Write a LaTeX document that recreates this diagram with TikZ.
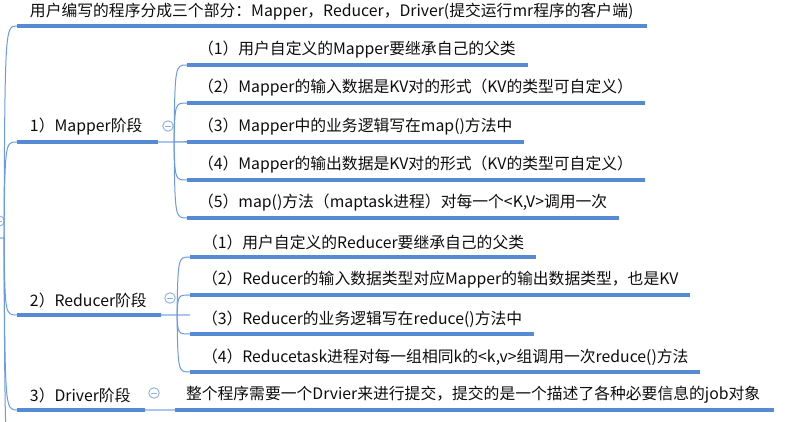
\documentclass[tikz,border=0pt]{standalone}
\usepackage{fontspec}
\setmainfont{Noto Sans CJK SC}
\definecolor{ulblue}{RGB}{86,139,212}
\definecolor{cblue}{RGB}{105,155,225}
\definecolor{sblue}{RGB}{170,198,238}
\definecolor{fblue}{RGB}{140,175,230}
\newcommand\mmfsz{\fontsize{15.8}{18}\selectfont}
\begin{document}
\begin{tikzpicture}[x=1pt,y=-1pt,
  every node/.style={inner sep=0pt, outer sep=0pt},
  lbl/.style={anchor=west, font=\mmfsz, text=black!95},
  uline/.style={line width=3.2pt, draw=ulblue},
  conn/.style={line width=1pt, draw=cblue},
  stub/.style={line width=1.8pt, draw=sblue},
  fold/.style={circle, draw=fblue, line width=0.9pt, minimum size=10.5pt, fill=white,
    path picture={\draw[fblue,line width=0.9pt]
      ([xshift=-2.8pt]path picture bounding box.center) --
      ([xshift=2.8pt]path picture bounding box.center);}}
]
\useasboundingbox (0,0) rectangle (788,422);

% root
\node[fold] (rootf) at (-1,221) {};
\coordinate (r0) at (0,238);
\coordinate (r) at (4,238);
\draw[stub] (r0) -- (r);

% title
\node[lbl] (title) at (30,12) {用户编写的程序分成三个部分：Mapper，Reducer，Driver(提交运行mr程序的客户端)};
\coordinate (t0) at (17,26);
\coordinate (t1) at ([xshift=14pt]title.east |- t0);
\draw[uline] (t0) -- (t1);
\draw[conn] (r) .. controls (5,26) .. (t0);

% Mapper
\node[lbl] (mp) at (30,127) {1）Mapper阶段};
\coordinate (mp0) at (17,142);
\coordinate (mp1) at (158,142);
\coordinate (mpj) at (174,142);
\coordinate (mp2) at (187,142);
\draw[uline] (mp0) -- (mp1);
\draw[stub] (mp1) -- (mp2);
\draw[conn] (r) .. controls (5,142) .. (mp0);
\node[fold] (mpf) at (168,126) {};
\foreach \i/\y/\t in {
  1/65/{（1）用户自定义的Mapper要继承自己的父类},
  2/103/{（2）Mapper的输入数据是KV对的形式（KV的类型可自定义）},
  3/142/{（3）Mapper中的业务逻辑写在map()方法中},
  4/180/{（4）Mapper的输出数据是KV对的形式（KV的类型可自定义）},
  5/218/{（5）map()方法（maptask进程）对每一个<K,V>调用一次}}{
  \node[lbl] (mc\i) at (198,\y-15) {\t};
  \coordinate (mca\i) at (187,\y);
  \coordinate (mcb\i) at ([xshift=12pt]mc\i.east |- mca\i);
  \draw[conn] (mpj) .. controls (175,\y) .. (mca\i);
  \draw[uline] (mca\i) -- (mcb\i);
}

% Reducer
\node[lbl] (rd) at (30,300) {2）Reducer阶段};
\coordinate (rd0) at (17,315);
\coordinate (rd1) at (161,315);
\coordinate (rdj) at (177,315);
\coordinate (rd2) at (190,315);
\draw[uline] (rd0) -- (rd1);
\draw[stub] (rd1) -- (rd2);
\draw[conn] (r) .. controls (5,315) .. (rd0);
\node[fold] (rdf) at (170,298) {};
\foreach \i/\y/\t in {
  1/257/{（1）用户自定义的Reducer要继承自己的父类},
  2/295/{（2）Reducer的输入数据类型对应Mapper的输出数据类型，也是KV},
  3/334/{（3）Reducer的业务逻辑写在reduce()方法中},
  4/372/{（4）Reducetask进程对每一组相同k的<k,v>组调用一次reduce()方法}}{
  \node[lbl] (rc\i) at (202,\y-15) {\t};
  \coordinate (rca\i) at (190,\y);
  \coordinate (rcb\i) at ([xshift=12pt]rc\i.east |- rca\i);
  \draw[conn] (rdj) .. controls (178,\y) .. (rca\i);
  \draw[uline] (rca\i) -- (rcb\i);
}

% Driver
\node[lbl] (dr) at (30,395) {3）Driver阶段};
\coordinate (dr0) at (17,410);
\coordinate (dr1) at (145,410);
\coordinate (dr2) at (175,410);
\draw[uline] (dr0) -- (dr1);
\draw[stub] (dr1) -- (dr2);
\draw[conn] (r) .. controls (5,410) .. (dr0);
\node[fold] (drf) at (154,393) {};
\node[lbl] (dc) at (186,395) {整个程序需要一个Drvier来进行提交，提交的是一个描述了各种必要信息的job对象};
\coordinate (dcb) at ([xshift=14pt]dc.east |- dr2);
\draw[uline] (dr2) -- (dcb);

% branch continuing below
\coordinate (nx) at (17,470);
\draw[conn] (r) .. controls (5,470) .. (nx);
\end{tikzpicture}
\end{document}
